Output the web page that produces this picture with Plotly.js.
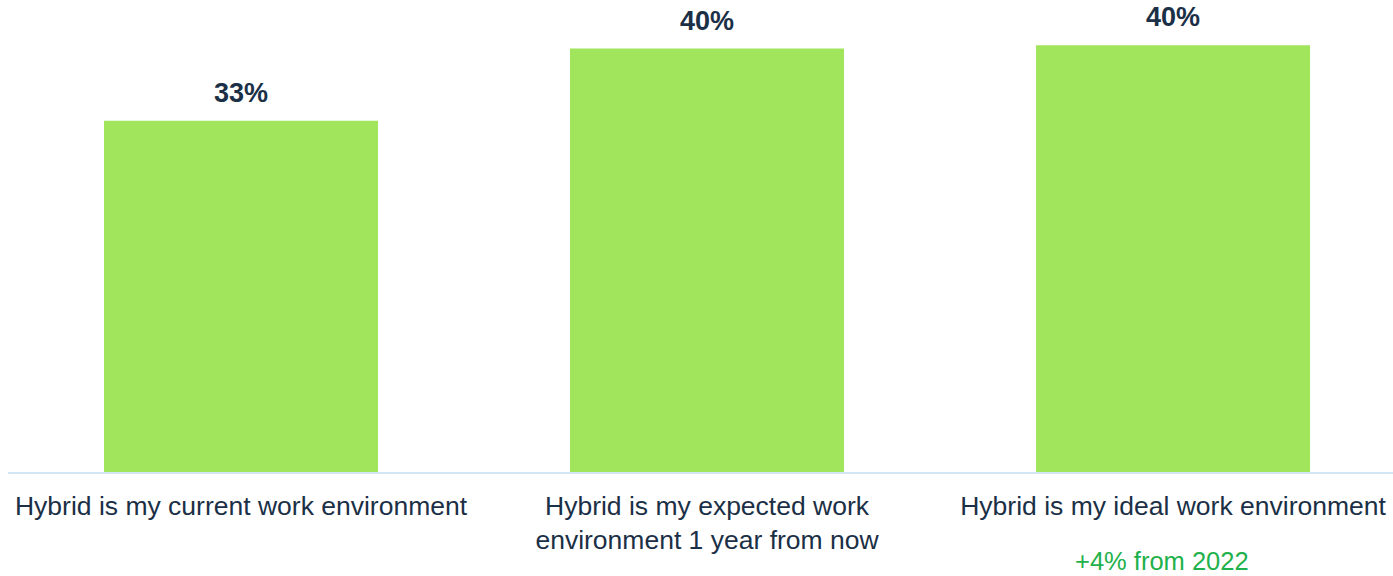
<!DOCTYPE html>
<html>
<head>
<meta charset="utf-8">
<script src="https://cdn.plot.ly/plotly-3.0.1.min.js"></script>
<style>html,body{margin:0;padding:0;background:#fff;overflow:hidden}</style>
</head>
<body>
<div id="chart" style="width:1393px;height:576px"></div>
<script>
const categories = [
  "Hybrid is my current work environment",
  "Hybrid is my expected work<br>environment 1 year from now",
  "Hybrid is my ideal work environment"
];
const values = [33, 39.8, 40.1];
const valueLabels = ["33%", "40%", "40%"];
const noteCategory = categories[2];
const noteText = "+4% from 2022";

const navy = "#1b3046";
const fontFam = "Liberation Sans, Arial, sans-serif";

const trace = {
  type: "bar",
  x: categories,
  y: values,
  marker: {color: "#a0e55b"},
  hoverinfo: "none"
};

const annotations = categories.map((c, i) => ({
  x: c, y: values[i], xref: "x", yref: "y",
  text: "<b>" + valueLabels[i] + "</b>",
  showarrow: false, yanchor: "bottom", yshift: 11,
  font: {family: fontFam, size: 27, color: navy}
}));
annotations.push({
  x: noteCategory, y: 0, xref: "x", yref: "y",
  text: noteText, showarrow: false, yanchor: "middle", yshift: -89, xshift: -11,
  borderpad: 0,
  font: {family: fontFam, size: 25.5, color: "#1fb14c"}
});

const layout = {
  width: 1393, height: 576,
  margin: {l: 8, r: 0, t: 0, b: 104},
  paper_bgcolor: "#fff", plot_bgcolor: "#fff",
  bargap: 0.412,
  showlegend: false,
  xaxis: {
    type: "category",
    range: [-0.5, 2.472],
    showline: true, linecolor: "#d0e7f3", linewidth: 2,
    ticks: "", showgrid: false, zeroline: false,
    ticklabelstandoff: 9,
    tickfont: {family: fontFam, size: 26.5, color: navy}
  },
  yaxis: {
    range: [0, 44.36],
    visible: false, showgrid: false, zeroline: false
  },
  annotations: annotations
};

Plotly.newPlot("chart", [trace], layout, {displayModeBar: false, staticPlot: true});
</script>
</body>
</html>
